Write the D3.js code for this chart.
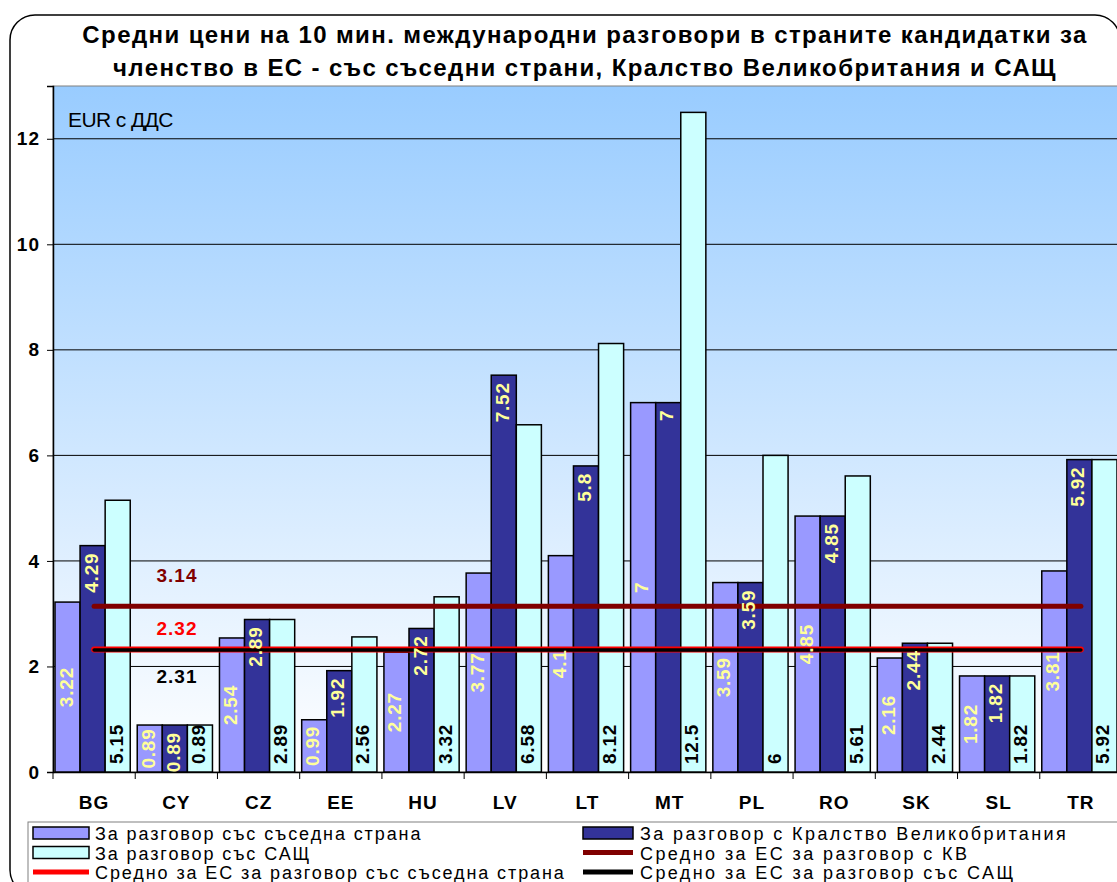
<!DOCTYPE html>
<html>
<head>
<meta charset="utf-8">
<script src="https://cdn.jsdelivr.net/npm/d3@7"></script>
<style>
  body { margin: 0; background: #fff; }
  text { font-family: "Liberation Sans", Arial, sans-serif; }
</style>
</head>
<body>
<div id="chart"></div>
<script>
// Chart data
var countries = ["BG", "CY", "CZ", "EE", "HU", "LV", "LT", "MT", "PL", "RO", "SK", "SL", "TR"];
var neighbour = [3.22, 0.89, 2.54, 0.99, 2.27, 3.77, 4.1, 7, 3.59, 4.85, 2.16, 1.82, 3.81];
var uk = [4.29, 0.89, 2.89, 1.92, 2.72, 7.52, 5.8, 7, 3.59, 4.85, 2.44, 1.82, 5.92];
var usa = [5.15, 0.89, 2.89, 2.56, 3.32, 6.58, 8.12, 12.5, 6, 5.61, 2.44, 1.82, 5.92];
var yTicks = [0, 2, 4, 6, 8, 10, 12];
var avgUk = 3.14, avgNeighbour = 2.32, avgUsa = 2.31;

var titleLines = [
  "Средни цени на 10 мин. международни разговори в страните кандидатки за",
  "членство в ЕС - със съседни страни, Кралство Великобритания и САЩ"
];
var unitLabel = "EUR с ДДС";
var seriesNames = ["За разговор със съседна страна", "За разговор с Кралство Великобритания", "За разговор със САЩ"];
var avgNames = ["Средно за ЕС за разговор с КВ", "Средно за ЕС за разговор със съседна страна", "Средно за ЕС за разговор със САЩ"];

var svgWidth = 1117, svgHeight = 882;
var plot = { left: 53, top: 86, right: 1122, bottom: 772 };

var svg = d3.select("#chart").append("svg")
  .attr("width", svgWidth)
  .attr("height", svgHeight);

// outer rounded frame
svg.append("rect")
  .attr("x", 10).attr("y", 15)
  .attr("width", 1110).attr("height", 880)
  .attr("rx", 25)
  .attr("fill", "#fff")
  .attr("stroke", "#000")
  .attr("stroke-width", 1.5);

// title
svg.selectAll(".title")
  .data(titleLines)
  .enter()
  .append("text")
  .attr("x", 585)
  .attr("y", (d, i) => 43 + i * 33)
  .attr("text-anchor", "middle")
  .style("font-size", "24px")
  .style("font-weight", "bold")
  .style("letter-spacing", "1.4px")
  .text(d => d);

// gradient for plot area
var grad = svg.append("defs").append("linearGradient")
  .attr("id", "bg").attr("x1", 0).attr("y1", 0).attr("x2", 0).attr("y2", 1);
grad.append("stop").attr("offset", "0%").attr("stop-color", "#99CCFF");
grad.append("stop").attr("offset", "100%").attr("stop-color", "#FFFFFF");

svg.append("rect")
  .attr("x", plot.left).attr("y", plot.top)
  .attr("width", plot.right - plot.left).attr("height", plot.bottom - plot.top)
  .attr("fill", "url(#bg)")
  .attr("stroke", "#808080")
  .attr("stroke-width", 1);

// scales
var x = d3.scaleBand()
  .domain(countries)
  .range([plot.left, plot.right]);

var xSeries = d3.scaleBand()
  .domain([0, 1, 2])
  .range([2, x.bandwidth() - 5]);

var y = d3.scaleLinear()
  .domain([0, 13])
  .range([plot.bottom, plot.top]);

// gridlines
svg.append("g")
  .selectAll("line")
  .data(yTicks.filter(d => d > 0))
  .enter()
  .append("line")
  .attr("x1", plot.left).attr("x2", plot.right)
  .attr("y1", d => y(d)).attr("y2", d => y(d))
  .attr("stroke", "#000")
  .attr("stroke-width", 1);

// y axis
var leftAxis = d3.axisLeft(y).tickValues(yTicks).tickSize(6).tickPadding(7);
var yAxis = svg.append("g")
  .attr("transform", `translate(${plot.left},0)`)
  .call(leftAxis);
yAxis.select(".domain").attr("stroke", "#000").attr("stroke-width", 1.5);
yAxis.selectAll("text")
  .style("font-size", "19px")
  .style("font-weight", "bold")
  .style("letter-spacing", "1px")
  .style("font-family", "'Liberation Sans', Arial, sans-serif")
  .attr("fill", "#000");

// x axis
var bottomAxis = d3.axisBottom(x).tickSize(0).tickPadding(24);
var xAxis = svg.append("g")
  .attr("transform", `translate(0,${plot.bottom})`)
  .call(bottomAxis);
xAxis.select(".domain").attr("stroke", "#000").attr("stroke-width", 1.5);
xAxis.selectAll("text")
  .style("font-size", "19px")
  .style("font-weight", "bold")
  .style("letter-spacing", "1px")
  .style("font-family", "'Liberation Sans', Arial, sans-serif")
  .attr("fill", "#000");
// category separator ticks
xAxis.selectAll(".sep")
  .data(countries)
  .enter()
  .append("line")
  .attr("x1", d => x(d)).attr("x2", d => x(d))
  .attr("y1", 0).attr("y2", 7)
  .attr("stroke", "#000");

// bars
var series = [
  { values: neighbour, color: "#9999FF", label: "#FFFF99", pos: "middle" },
  { values: uk, color: "#333399", label: "#FFFF99", pos: "top" },
  { values: usa, color: "#CCFFFF", label: "#000", pos: "base" }
];

series.forEach(function(s, si) {
  svg.append("g").selectAll("rect")
    .data(countries)
    .enter()
    .append("rect")
    .attr("x", (d, i) => x(d) + xSeries(si))
    .attr("y", (d, i) => y(s.values[i]))
    .attr("width", xSeries.bandwidth())
    .attr("height", (d, i) => y(0) - y(s.values[i]))
    .attr("fill", s.color)
    .attr("stroke", "#000")
    .attr("stroke-width", 1.5);
});

// EU average lines
var avgLines = [
  { v: avgNeighbour, color: "#FF0000", w: 6 },
  { v: avgUsa, color: "#000000", w: 3.5 },
  { v: avgUk, color: "#800000", w: 5 }
];
var first = countries[0], last = countries[countries.length - 1];
svg.append("g")
  .selectAll("line")
  .data(avgLines)
  .enter()
  .append("line")
  .attr("x1", x(first) + x.bandwidth() / 2)
  .attr("x2", x(last) + x.bandwidth() / 2)
  .attr("y1", d => y(d.v)).attr("y2", d => y(d.v))
  .attr("stroke", d => d.color)
  .attr("stroke-width", d => d.w)
  .attr("stroke-linecap", "round");

// data labels (on top of everything)
series.forEach(function(s, si) {
  svg.append("g").selectAll("text")
    .data(countries)
    .enter()
    .append("text")
    .attr("transform", function(d, i) {
      var cx = x(d) + xSeries(si) + xSeries.bandwidth() / 2 + 5;
      var cy;
      if (s.pos === "middle") cy = (y(s.values[i]) + y(0)) / 2;
      else if (s.pos === "top") cy = y(s.values[i]) + 7;
      else cy = y(0) - 8;
      return `translate(${cx},${cy}) rotate(-90)`;
    })
    .attr("text-anchor", s.pos === "middle" ? "middle" : (s.pos === "top" ? "end" : "start"))
    .style("font-size", "19px")
    .style("font-weight", "bold")
    .style("letter-spacing", "0.8px")
    .attr("fill", s.label)
    .text((d, i) => s.values[i]);
});

var avgLabels = [
  { v: avgUk, color: "#800000", dy: -24 },
  { v: avgNeighbour, color: "#FF0000", dy: -15 },
  { v: avgUsa, color: "#000000", dy: 33 }
];
svg.append("g")
  .selectAll("text")
  .data(avgLabels)
  .enter()
  .append("text")
  .attr("x", 177)
  .attr("y", d => y(d.v) + d.dy)
  .attr("text-anchor", "middle")
  .style("font-size", "19px")
  .style("font-weight", "bold")
  .style("letter-spacing", "1px")
  .attr("fill", d => d.color)
  .text(d => d.v.toFixed(2));

// unit label
svg.append("text")
  .attr("x", 68).attr("y", 127)
  .style("font-size", "21px")
  .style("letter-spacing", "-0.6px")
  .text(unitLabel);

// legend
var legend = svg.append("g");
legend.append("rect")
  .attr("x", 28).attr("y", 822)
  .attr("width", 1100).attr("height", 80)
  .attr("fill", "#fff")
  .attr("stroke", "#808080");

var legendItems = [
  { name: seriesNames[0], type: "rect", color: "#9999FF", col: 0, row: 0 },
  { name: seriesNames[1], type: "rect", color: "#333399", col: 1, row: 0 },
  { name: seriesNames[2], type: "rect", color: "#CCFFFF", col: 0, row: 1 },
  { name: avgNames[0], type: "line", color: "#800000", col: 1, row: 1 },
  { name: avgNames[1], type: "line", color: "#FF0000", col: 0, row: 2 },
  { name: avgNames[2], type: "line", color: "#000000", col: 1, row: 2 }
];
var colX = [33, 583];
legendItems.forEach(function(d) {
  var lx = colX[d.col], ly = 833 + d.row * 19.5;
  if (d.type === "rect") {
    legend.append("rect")
      .attr("x", lx).attr("y", ly - 6)
      .attr("width", d.col === 0 ? 56 : 50).attr("height", 12)
      .attr("fill", d.color).attr("stroke", "#000").attr("stroke-width", 1.5);
  } else {
    legend.append("line")
      .attr("x1", lx).attr("x2", lx + (d.col === 0 ? 56 : 50))
      .attr("y1", ly).attr("y2", ly)
      .attr("stroke", d.color).attr("stroke-width", 5);
  }
  legend.append("text")
    .attr("x", lx + (d.col === 0 ? 62 : 57))
    .attr("y", ly + 7)
    .style("font-size", "18px")
    .style("letter-spacing", d.col === 0 ? "1.9px" : "2.4px")
    .text(d.name);
});
</script>
</body>
</html>
